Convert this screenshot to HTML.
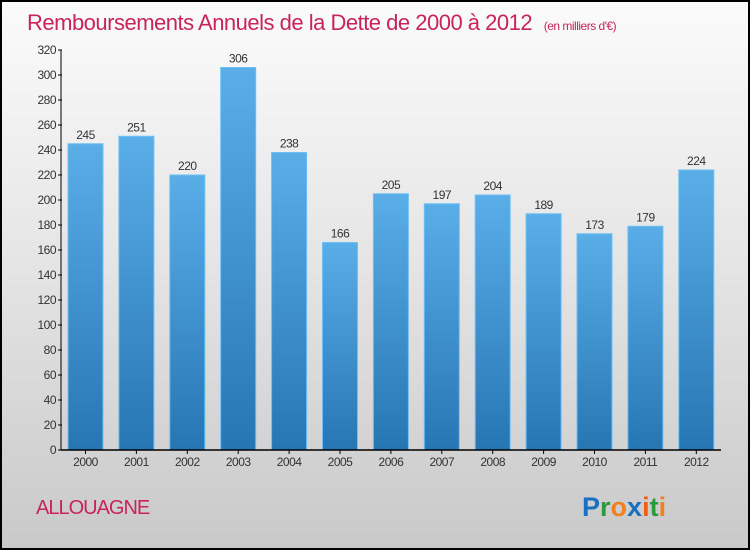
<!DOCTYPE html>
<html><head><meta charset="utf-8"><style>
body{margin:0;width:750px;height:550px;overflow:hidden;font-family:"Liberation Sans",sans-serif}
#wrap{position:absolute;left:0;top:0;width:746px;height:546px;border:2px solid #000;background:linear-gradient(#fbfbfb,#e6e6e6 45%,#c9c9c9)}
</style></head><body>
<div id="wrap">
<svg width="746" height="546" viewBox="2 2 746 546" style="position:absolute;left:0;top:0" id="svg">
<defs><linearGradient id="bg" x1="0" y1="0" x2="0" y2="1"><stop offset="0" stop-color="#5aaee8"/><stop offset="1" stop-color="#2676b4"/></linearGradient></defs>
<text x="27" y="30" font-size="22" fill="#c8245a" style="letter-spacing:-0.5px">Remboursements Annuels de la Dette de 2000 à 2012 <tspan font-size="12" dx="6">(en milliers d'€)</tspan></text>
<g id="yaxis"></g>
<g id="bars"></g>
<g id="xaxis"></g>
<text x="36" y="514" font-size="20" fill="#c8245a" style="letter-spacing:-1px">ALLOUAGNE</text>
<text x="582" y="516" font-size="27" font-weight="bold"><tspan fill="#1a6fc0">P</tspan><tspan fill="#2a9a3a">r</tspan><tspan fill="#f08020">o</tspan><tspan fill="#1a6fc0">x</tspan><tspan fill="#f06010">i</tspan><tspan fill="#2a9a3a">t</tspan><tspan fill="#f08020">i</tspan></text>
</svg></div>
<script>
const categories=["2000","2001","2002","2003","2004","2005","2006","2007","2008","2009","2010","2011","2012"];
const values=[245,251,220,306,238,166,205,197,204,189,173,179,224];
const yTicks=[0,20,40,60,80,100,120,140,160,180,200,220,240,260,280,300,320];
const NS="http://www.w3.org/2000/svg";
const y0=450,yTop=50,yMax=320,x0=68,step=50.9,bw=35;
const y=v=>y0-(v/yMax)*(y0-yTop);
const x=i=>x0+i*step;
function mk(t,a,p){const e=document.createElementNS(NS,t);for(const k in a)e.setAttribute(k,a[k]);p.appendChild(e);return e;}
const ya=document.getElementById('yaxis'),ba=document.getElementById('bars'),xa=document.getElementById('xaxis');
mk('line',{x1:61,y1:yTop,x2:61,y2:y0,stroke:'#000','stroke-width':1},ya);
yTicks.forEach(t=>{
  mk('line',{x1:58,y1:y(t),x2:62,y2:y(t),stroke:'#000'},ya);
  const tx=mk('text',{x:56,y:y(t)+4,'font-size':12,fill:'#333','text-anchor':'end','letter-spacing':'-0.5'},ya);
  
  
  tx.textContent=t;
});
values.forEach((v,i)=>{
  const r=mk('rect',{x:x(i),y:y(v),width:bw,height:y0-y(v),fill:'url(#bg)',stroke:'#6cc0f4','stroke-width':1},ba);
  
  
  const t=mk('text',{x:x(i)+bw/2,y:y(v)-5,'font-size':12,fill:'#333','text-anchor':'middle','letter-spacing':'-0.5'},ba);
  
  
  t.textContent=v;
});
mk('line',{x1:61,y1:y0,x2:721,y2:y0,stroke:'#000','stroke-width':1.5},xa);
categories.forEach((c,i)=>{
  const cx=x(i)+bw/2;
  mk('line',{x1:cx,y1:y0,x2:cx,y2:y0+4,stroke:'#000'},xa);
  const t=mk('text',{x:cx,y:y0+16,'font-size':12,fill:'#333','text-anchor':'middle','letter-spacing':'-0.5'},xa);
  
  
  t.textContent=c;
});
</script>
</body></html>
